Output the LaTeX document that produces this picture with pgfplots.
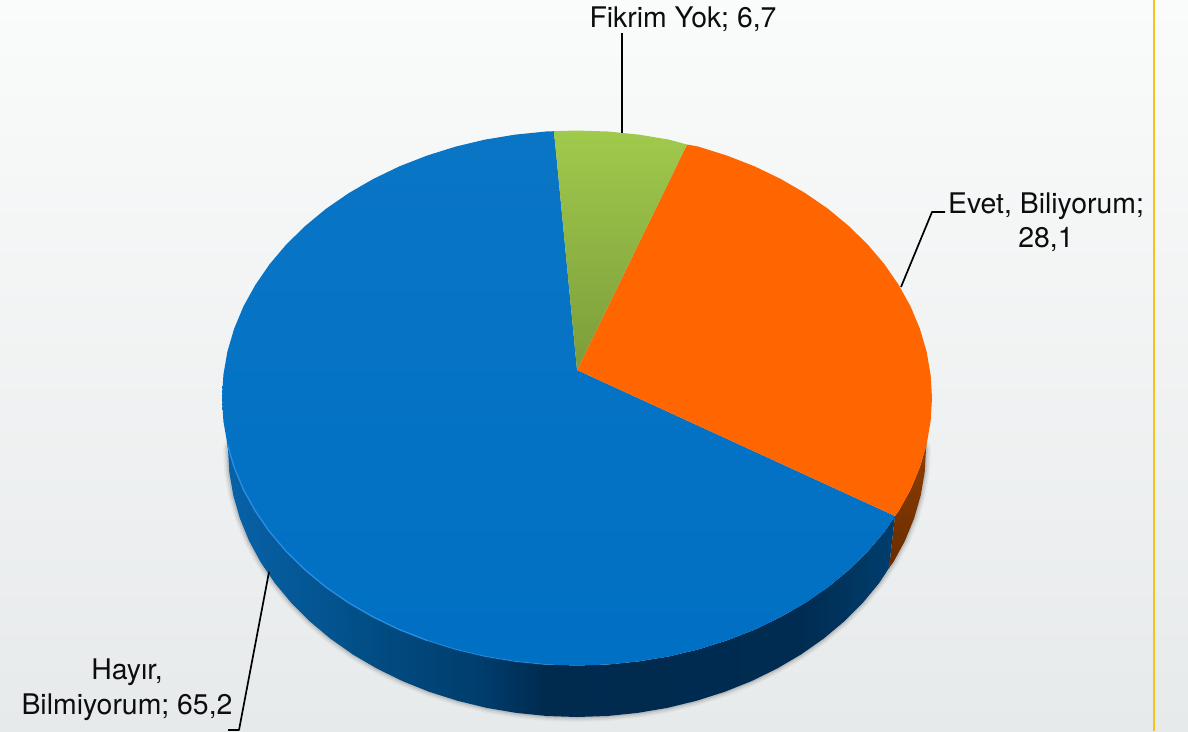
\documentclass[border=0pt]{standalone}
\usepackage{fontspec}
\usepackage{pgfplots}
\usepackage{pgfplotstable}
\pgfplotsset{compat=1.18}
\setmainfont{TeX Gyre Heros}
\definecolor{bgtop}{HTML}{FAFBFB}
\definecolor{bgbot}{HTML}{E7EAEB}
\pgfplotstableread{
x y
918.0 425.0
926.0 449.0
924.7 472.4
920.7 495.5
914.1 518.4
905.0 540.7
893.3 562.3
879.2 583.0
862.9 602.7
844.3 621.3
823.8 638.5
801.3 654.3
777.2 668.5
751.5 681.1
724.5 691.9
696.4 700.8
667.3 707.9
637.6 712.9
607.4 716.0
577.0 717.0
546.6 716.0
516.4 712.9
486.7 707.9
457.6 700.8
429.5 691.9
402.5 681.1
376.8 668.5
352.7 654.3
330.2 638.5
309.7 621.3
291.1 602.7
274.8 583.0
260.7 562.3
249.0 540.7
239.9 518.4
233.3 495.5
229.3 472.4
228.0 449.0
236.0 425.0
}\outline
\newcommand{\lab}[3]{\node[anchor=base,inner sep=0pt,font=\fontsize{28.4}{33}\selectfont,text=black!95] at (axis cs:#1,#2) {#3};}
\begin{document}
\begin{tikzpicture}
\begin{axis}[
  scale only axis, width=1188pt, height=731pt,
  xmin=0, xmax=1188, ymin=0, ymax=731, y dir=reverse,
  hide axis, no markers, clip=true,
  every axis plot/.append style={line join=round},
]
% background
\addplot[draw=none, shade, top color=bgtop, bottom color=bgbot] coordinates {(0,0)(1188,0)(1188,731)(0,731)} -- cycle;
\addplot[color=black!70!bgbot, opacity=0.05, line width=10pt] table {\outline};
\addplot[color=black, opacity=0.06, line width=7pt] table {\outline};
\addplot[color=black, opacity=0.10, line width=3.5pt] table {\outline};
% side: orange
\addplot[draw=none, shade, top color={rgb,255:red,142;green,62;blue,0}, bottom color={rgb,255:red,104;green,44;blue,0}] coordinates {
(926.6,444.4)(919.9,467.2)(910.6,489.5)(898.7,511.0)(895,516)(889,568)(893.3,562.3)(905,540.7)(914.1,518.4)(920.7,495.5)(924.7,472.4)(926,449)} -- cycle;
% side: blue, left to right
\addplot[draw=none, shade, left color={rgb,255:red,8;green,98;blue,168}, right color={rgb,255:red,2;green,80;blue,137}] coordinates {
(227.4,444.4)(234.1,467.2)(243.4,489.5)(255.3,511.0)(269.6,531.8)(286.2,551.4)(305.1,569.9)(326,587.2)(348.8,602.9)(352.7,654.3)(330.2,638.5)(309.7,621.3)(291.1,602.7)(274.8,583)(260.7,562.3)(249,540.7)(239.9,518.4)(233.3,495.5)(229.3,472.4)(228,449)} -- cycle;
\addplot[draw=none, shade, left color={rgb,255:red,2;green,80;blue,137}, right color={rgb,255:red,0;green,60;blue,107}] coordinates {
(348,602.4)(373.4,617.1)(399.5,629.7)(427,640.4)(455.6,649.4)(485.1,656.4)(486.7,707.9)(457.6,700.8)(429.5,691.9)(402.5,681.1)(376.8,668.5)(352,654)} -- cycle;
\addplot[draw=none, shade, left color={rgb,255:red,0;green,60;blue,107}, right color={rgb,255:red,0;green,42;blue,78}] coordinates {
(484.5,656.3)(515.4,661.4)(546,664.5)(546.6,716)(516.4,712.9)(486,707.8)} -- cycle;
\addplot[draw=none, shade, left color={rgb,255:red,0;green,42;blue,78}, right color={rgb,255:red,0;green,44;blue,81}] coordinates {
(545.5,664.5)(577,665.5)(608,664.5)(638.6,661.4)(668.9,656.4)(698.4,649.4)(727,640.4)(754.5,629.7)(780.6,617.1)(805.2,602.9)(801.3,654.3)(777.2,668.5)(751.5,681.1)(724.5,691.9)(696.4,700.8)(667.3,707.9)(637.6,712.9)(607.4,716)(577,717)(546,716)} -- cycle;
\addplot[draw=none, shade, left color={rgb,255:red,0;green,44;blue,81}, right color={rgb,255:red,0;green,62;blue,110}] coordinates {
(804.6,603.3)(828,587.2)(848.9,569.9)(867.8,551.4)(884.4,531.8)(895,516)(889,568)(879.2,583)(862.9,602.7)(844.3,621.3)(823.8,638.5)(800.8,654.6)} -- cycle;
% top: blue slice
\addplot[draw=none, shade, top color={rgb,255:red,10;green,117;blue,197}, bottom color={rgb,255:red,0;green,112;blue,196}] coordinates {
(577,370)(895,516)(884.4,531.8)(867.8,551.4)(848.9,569.9)(828,587.2)(805.2,602.9)(780.6,617.1)(754.5,629.7)(727,640.4)(698.4,649.4)(668.9,656.4)(638.6,661.4)(608,664.5)(577,665.5)(546,664.5)(515.4,661.4)(485.1,656.4)(455.6,649.4)(427,640.4)(399.5,629.7)(373.4,617.1)(348.8,602.9)(326,587.2)(305.1,569.9)(286.2,551.4)(269.6,531.8)(255.3,511)(243.4,489.5)(234.1,467.2)(227.4,444.4)(223.4,421.3)(222,398)(223.4,374.7)(227.4,351.6)(234.1,328.8)(243.4,306.5)(255.3,285)(269.6,264.2)(286.2,244.6)(305.1,226.1)(326,208.8)(348.8,193.1)(373.4,178.9)(399.5,166.3)(427,155.6)(455.6,146.6)(485.1,139.6)(515.4,134.6)(546,131.5)(554,131.2)} -- cycle;
% top: orange slice
\addplot[draw=none, fill={rgb,255:red,255;green,102;blue,0}] coordinates {
(577,370)(687,144.5)(698.4,146.6)(727,155.6)(754.5,166.3)(780.6,178.9)(805.2,193.1)(828,208.8)(848.9,226.1)(867.8,244.6)(884.4,264.2)(898.7,285)(910.6,306.5)(919.9,328.8)(926.6,351.6)(930.6,374.7)(932,398)(930.6,421.3)(926.6,444.4)(919.9,467.2)(910.6,489.5)(898.7,511)(895,516)} -- cycle;
% top: green slice
\addplot[draw=none, shade, top color={rgb,255:red,160;green,202;blue,76}, bottom color={rgb,255:red,124;green,156;blue,58}] coordinates {
(577,370)(554,131.2)(577,130.5)(608,131.5)(638.6,134.6)(668.9,139.6)(687,144.5)} -- cycle;
% rim highlight
\addplot[color={rgb,255:red,44;green,146;blue,232}, line width=1.3pt, opacity=0.9] coordinates {(227.4,444.4)(234.1,467.2)(243.4,489.5)(255.3,511)(269.6,531.8)(286.2,551.4)(305.1,569.9)(326,587.2)(348.8,602.9)(373.4,617.1)(399.5,629.7)(427,640.4)};
\addplot[color={rgb,255:red,44;green,146;blue,232}, line width=1.2pt, opacity=0.5] coordinates {(427,640.4)(455.6,649.4)(485.1,656.4)(515.4,661.4)(546,664.5)};
% leader lines
\addplot[color=black, line width=1.7pt] coordinates {(622,33)(622,133)};
\addplot[color=black, line width=1.7pt] coordinates {(945,212)(932,212)(901,287)};
\addplot[color=black, line width=1.7pt] coordinates {(269,572)(239,730)(228,730)};
% yellow rule
\addplot[color={rgb,255:red,246;green,196;blue,24}, line width=2.8pt] coordinates {(1154,0)(1154,731)};
% labels
\lab{683}{27}{Fikrim Yok; 6,7}
\lab{1046}{213}{Evet, Biliyorum;}
\lab{1046}{247}{28,1}
\lab{127}{679}{Hayır,}
\lab{127}{714}{Bilmiyorum; 65,2}
\end{axis}
\end{tikzpicture}
\end{document}
